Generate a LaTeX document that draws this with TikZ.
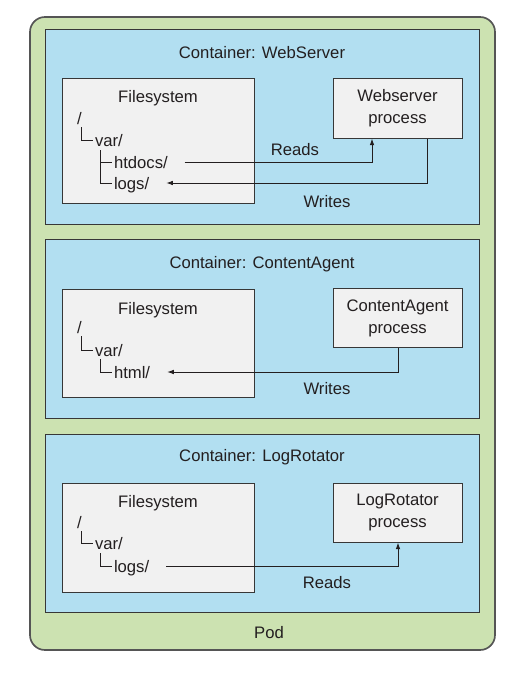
\documentclass[tikz,border=0pt]{standalone}
\usepackage{fontspec}
\setmainfont{Liberation Sans}
\usetikzlibrary{arrows.meta,positioning,calc}
\definecolor{podgreen}{RGB}{204,226,177}
\definecolor{ctblue}{RGB}{178,223,241}
\definecolor{boxgray}{RGB}{241,241,241}
\definecolor{edgegray}{RGB}{55,55,55}
\definecolor{inkgray}{RGB}{35,31,32}
\tikzset{
  >={Latex[length=4pt,width=2.8pt]},
  pod/.style={draw=edgegray!85, line width=1pt, fill=podgreen, rounded corners=9pt},
  ctr/.style={draw=edgegray, line width=0.6pt, fill=ctblue},
  fsbox/.style={draw=edgegray, line width=0.6pt, fill=boxgray},
  txt/.style={text=inkgray, inner sep=0pt, text height=7.2pt, text depth=0pt},
  dir/.style={txt, anchor=west, inner xsep=1pt},
  proc/.style={draw=edgegray, line width=0.6pt, fill=boxgray, text=inkgray,
    minimum width=77.4pt, minimum height=35.4pt, align=center, inner sep=0pt,
    font={\fontsize{10pt}{13.2pt}\selectfont}},
  tree/.style={line width=0.6pt, draw=inkgray},
  flow/.style={->, line width=0.6pt, draw=inkgray}
}

\begin{document}
\begin{tikzpicture}[x=0.6pt, y=-0.6pt]
  \useasboundingbox (0,0) rectangle (517,675);
  % --- Setup Definitions ---
  \def\gap{15}   % space between a folder name and its arrow

  % --- Pod ---
  \draw[pod] (30,17) rectangle (495,650);
  \node[txt] (podlbl) at (269,632) {Pod};

  % --- Container: WebServer ---
  \draw[ctr] (45,30) rectangle (479,224);
  \node[txt] (webtitle) at (262,53) {Container: WebServer};
  \draw[fsbox] (62,79) rectangle (254,203);
  \node[txt] (fs1) at (158,97) {Filesystem};
  \node[dir] (root1) at (75,118) {/};
  \node[dir] (var1) at (93,140) {var/};
  \node[dir] (htdocs1) at (112,162) {htdocs/};
  \node[dir] (logs1) at (112,183) {logs/};
  \coordinate (r1) at (81,127);
  \coordinate (v1) at (100,150);
  \draw[tree] (r1) |- (var1.west);
  \draw[tree] (v1) |- (htdocs1.west);
  \draw[tree] (v1) |- (logs1.west);
  \node[proc] (web) at (397.5,108.5) {Webserver\\process};
  % Reads: htdocs -> process, Writes: process -> logs
  \draw[flow] ($(htdocs1.east)+(\gap,0)$) -| ($(web.south)+(-25.5,0)$);
  \draw[flow] ($(web.south)+(29.5,0)$) |- ($(logs1.east)+(\gap,0)$);
  \node[txt] (reads1) at (295,149) {Reads};
  \node[txt] (writes1) at (327,201) {Writes};

  % --- Container: ContentAgent ---
  \draw[ctr] (45,239) rectangle (479,418);
  \node[txt] (agenttitle) at (262,262) {Container: ContentAgent};
  \draw[fsbox] (62,289) rectangle (254,397);
  \node[txt] (fs2) at (158,308) {Filesystem};
  \node[dir] (root2) at (75,327) {/};
  \node[dir] (var2) at (93,350) {var/};
  \node[dir] (html2) at (112,372) {html/};
  \coordinate (r2) at (81,336);
  \coordinate (v2) at (100,359);
  \draw[tree] (r2) |- (var2.west);
  \draw[tree] (v2) |- (html2.west);
  \node[proc] (agent) at (397.5,318) {ContentAgent\\process};
  \draw[flow] ($(agent.south)+(0.5,0)$) |- ($(html2.east)+(\gap,0)$);
  \node[txt] (writes2) at (327,388) {Writes};

  % --- Container: LogRotator ---
  \draw[ctr] (45,434) rectangle (479,612);
  \node[txt] (rottitle) at (262,455) {Container: LogRotator};
  \draw[fsbox] (62,483) rectangle (254,592);
  \node[txt] (fs3) at (158,501) {Filesystem};
  \node[dir] (root3) at (75,522) {/};
  \node[dir] (var3) at (93,543) {var/};
  \node[dir] (logs3) at (112,566) {logs/};
  \coordinate (r3) at (81,531);
  \coordinate (v3) at (100,553);
  \draw[tree] (r3) |- (var3.west);
  \draw[tree] (v3) |- (logs3.west);
  \node[proc] (rotator) at (397.5,512.5) {LogRotator\\process};
  \draw[flow] ($(logs3.east)+(\gap,0)$) -| ($(rotator.south)+(0.5,0)$);
  \node[txt] (reads3) at (327,582) {Reads};
\end{tikzpicture}
\end{document}
